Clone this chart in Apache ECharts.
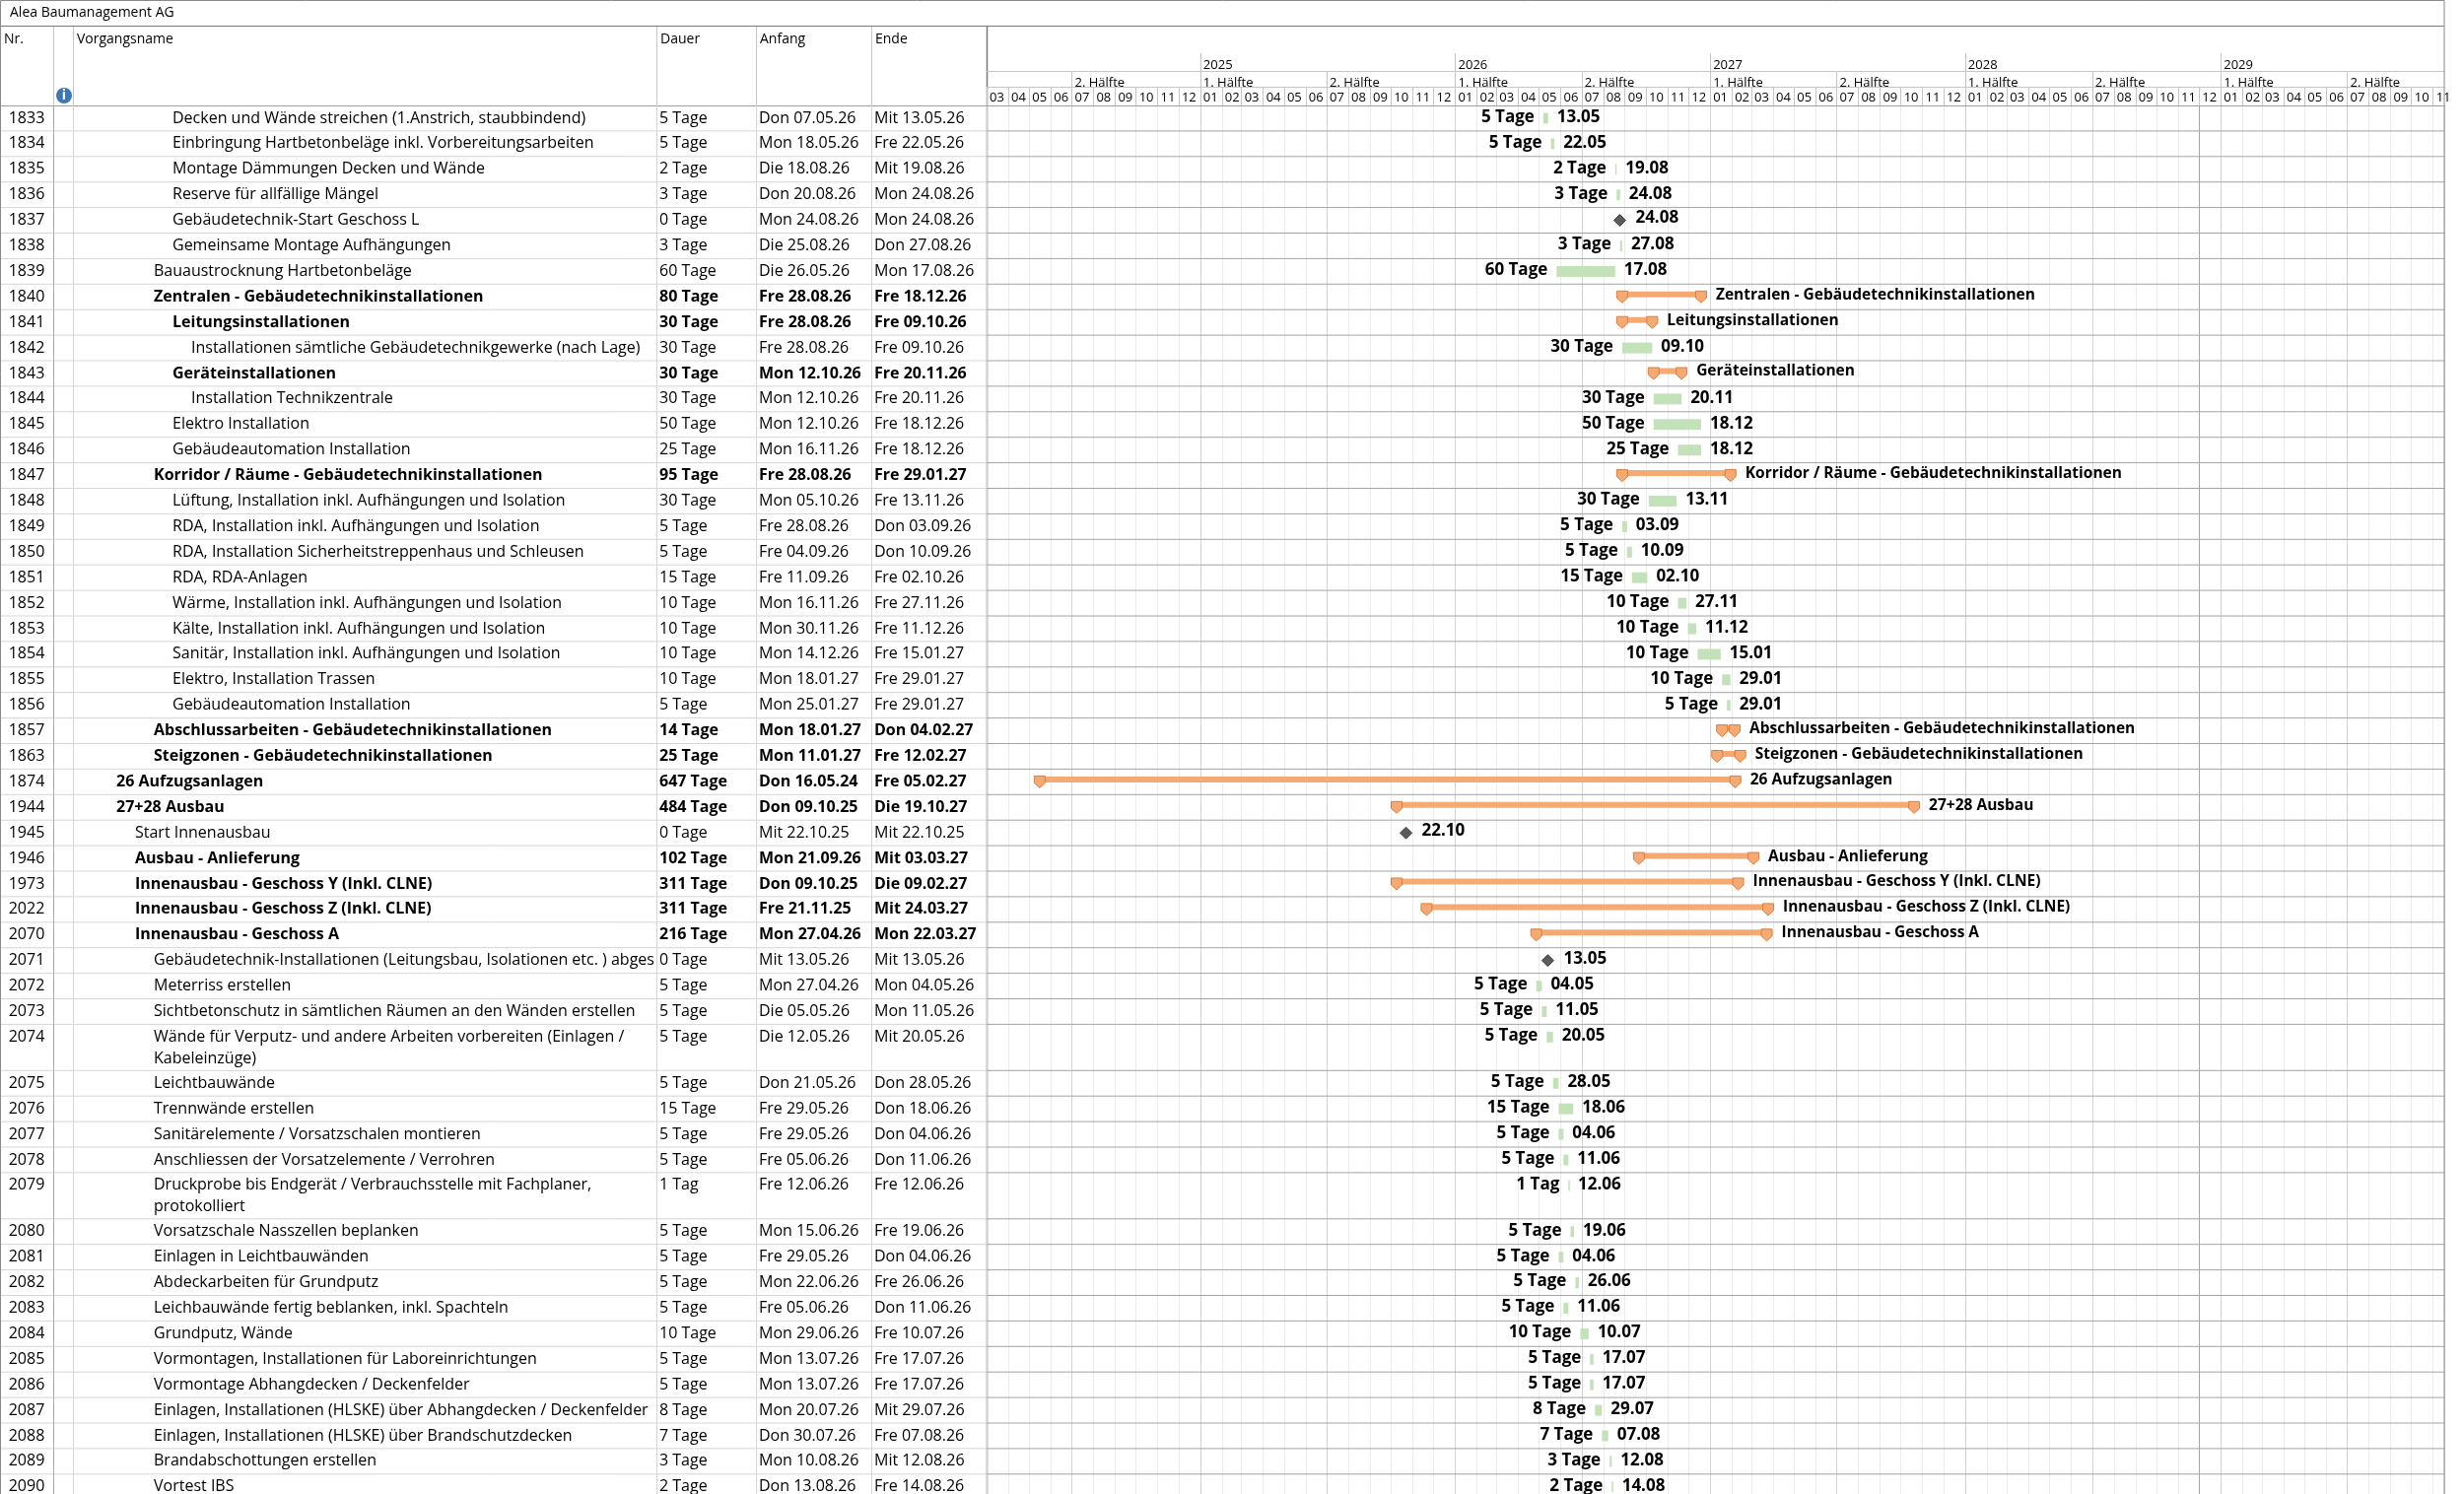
<!DOCTYPE html>
<html><head><meta charset="utf-8">
<script src="https://cdn.jsdelivr.net/npm/echarts@6/dist/echarts.min.js"></script>
<style>html,body{margin:0;padding:0;background:#fff}#c{width:2500px;height:1516px}</style>
</head><body><div id="c"></div>
<script>
// ---------------- data ----------------
const chartTitle = 'Alea Baumanagement AG';
const columnTitles = ['Nr.', 'Vorgangsname', 'Dauer', 'Anfang', 'Ende'];
const halfLabels = ['1. Hälfte', '2. Hälfte'];
const axisStart = '2024-03-01';
const axisEnd = '2029-11-17';
const markerDates = ['2028-12-01'];

const ids = [1833,1834,1835,1836,1837,1838,1839,1840,1841,1842,1843,1844,1845,1846,1847,1848,1849,1850,1851,1852,1853,1854,1855,1856,1857,1863,1874,1944,1945,1946,1973,2022,2070,2071,2072,2073,2074,2075,2076,2077,2078,2079,2080,2081,2082,2083,2084,2085,2086,2087,2088,2089,2090];
const names = [
 'Decken und Wände streichen (1.Anstrich, staubbindend)',
 'Einbringung Hartbetonbeläge inkl. Vorbereitungsarbeiten',
 'Montage Dämmungen Decken und Wände',
 'Reserve für allfällige Mängel',
 'Gebäudetechnik-Start Geschoss L',
 'Gemeinsame Montage Aufhängungen',
 'Bauaustrocknung Hartbetonbeläge',
 'Zentralen - Gebäudetechnikinstallationen',
 'Leitungsinstallationen',
 'Installationen sämtliche Gebäudetechnikgewerke (nach Lage)',
 'Geräteinstallationen',
 'Installation Technikzentrale',
 'Elektro Installation',
 'Gebäudeautomation Installation',
 'Korridor / Räume - Gebäudetechnikinstallationen',
 'Lüftung, Installation inkl. Aufhängungen und Isolation',
 'RDA, Installation inkl. Aufhängungen und Isolation',
 'RDA, Installation Sicherheitstreppenhaus und Schleusen',
 'RDA, RDA-Anlagen',
 'Wärme, Installation inkl. Aufhängungen und Isolation',
 'Kälte, Installation inkl. Aufhängungen und Isolation',
 'Sanitär, Installation inkl. Aufhängungen und Isolation',
 'Elektro, Installation Trassen',
 'Gebäudeautomation Installation',
 'Abschlussarbeiten - Gebäudetechnikinstallationen',
 'Steigzonen - Gebäudetechnikinstallationen',
 '26 Aufzugsanlagen',
 '27+28 Ausbau',
 'Start Innenausbau',
 'Ausbau - Anlieferung',
 'Innenausbau - Geschoss Y (Inkl. CLNE)',
 'Innenausbau - Geschoss Z (Inkl. CLNE)',
 'Innenausbau - Geschoss A',
 'Gebäudetechnik-Installationen (Leitungsbau, Isolationen etc. ) abgeschlossen',
 'Meterriss erstellen',
 'Sichtbetonschutz in sämtlichen Räumen an den Wänden erstellen',
 'Wände für Verputz- und andere Arbeiten vorbereiten (Einlagen /\nKabeleinzüge)',
 'Leichtbauwände',
 'Trennwände erstellen',
 'Sanitärelemente / Vorsatzschalen montieren',
 'Anschliessen der Vorsatzelemente / Verrohren',
 'Druckprobe bis Endgerät / Verbrauchsstelle mit Fachplaner,\nprotokolliert',
 'Vorsatzschale Nasszellen beplanken',
 'Einlagen in Leichtbauwänden',
 'Abdeckarbeiten für Grundputz',
 'Leichbauwände fertig beblanken, inkl. Spachteln',
 'Grundputz, Wände',
 'Vormontagen, Installationen für Laboreinrichtungen',
 'Vormontage Abhangdecken / Deckenfelder',
 'Einlagen, Installationen (HLSKE) über Abhangdecken / Deckenfelder',
 'Einlagen, Installationen (HLSKE) über Brandschutzdecken',
 'Brandabschottungen erstellen',
 'Vortest IBS'
];
const levels = [3,3,3,3,3,3,2,2,3,4,3,4,3,3,2,3,3,3,3,3,3,3,3,3,2,2,0,0,1,1,1,1,1,2,2,2,2,2,2,2,2,2,2,2,2,2,2,2,2,2,2,2,2];
const kinds = ['t','t','t','t','m','t','t','s','s','t','s','t','t','t','s','t','t','t','t','t','t','t','t','t','s','s','s','s','m','s','s','s','s','m',
 't','t','t','t','t','t','t','t','t','t','t','t','t','t','t','t','t','t','t'];
const durations = ['5 Tage','5 Tage','2 Tage','3 Tage','0 Tage','3 Tage','60 Tage','80 Tage','30 Tage','30 Tage','30 Tage','30 Tage','50 Tage','25 Tage','95 Tage','30 Tage','5 Tage','5 Tage','15 Tage','10 Tage','10 Tage','10 Tage','10 Tage','5 Tage','14 Tage','25 Tage','647 Tage','484 Tage','0 Tage','102 Tage','311 Tage','311 Tage','216 Tage','0 Tage','5 Tage','5 Tage','5 Tage','5 Tage','15 Tage','5 Tage','5 Tage','1 Tag','5 Tage','5 Tage','5 Tage','5 Tage','10 Tage','5 Tage','5 Tage','8 Tage','7 Tage','3 Tage','2 Tage'];
const starts = ['Don 07.05.26','Mon 18.05.26','Die 18.08.26','Don 20.08.26','Mon 24.08.26','Die 25.08.26','Die 26.05.26','Fre 28.08.26','Fre 28.08.26','Fre 28.08.26','Mon 12.10.26','Mon 12.10.26','Mon 12.10.26','Mon 16.11.26','Fre 28.08.26','Mon 05.10.26','Fre 28.08.26','Fre 04.09.26','Fre 11.09.26','Mon 16.11.26','Mon 30.11.26','Mon 14.12.26','Mon 18.01.27','Mon 25.01.27','Mon 18.01.27','Mon 11.01.27','Don 16.05.24','Don 09.10.25','Mit 22.10.25','Mon 21.09.26','Don 09.10.25','Fre 21.11.25','Mon 27.04.26','Mit 13.05.26','Mon 27.04.26','Die 05.05.26','Die 12.05.26','Don 21.05.26','Fre 29.05.26','Fre 29.05.26','Fre 05.06.26','Fre 12.06.26','Mon 15.06.26','Fre 29.05.26','Mon 22.06.26','Fre 05.06.26','Mon 29.06.26','Mon 13.07.26','Mon 13.07.26','Mon 20.07.26','Don 30.07.26','Mon 10.08.26','Don 13.08.26'];
const ends = ['Mit 13.05.26','Fre 22.05.26','Mit 19.08.26','Mon 24.08.26','Mon 24.08.26','Don 27.08.26','Mon 17.08.26','Fre 18.12.26','Fre 09.10.26','Fre 09.10.26','Fre 20.11.26','Fre 20.11.26','Fre 18.12.26','Fre 18.12.26','Fre 29.01.27','Fre 13.11.26','Don 03.09.26','Don 10.09.26','Fre 02.10.26','Fre 27.11.26','Fre 11.12.26','Fre 15.01.27','Fre 29.01.27','Fre 29.01.27','Don 04.02.27','Fre 12.02.27','Fre 05.02.27','Die 19.10.27','Mit 22.10.25','Mit 03.03.27','Die 09.02.27','Mit 24.03.27','Mon 22.03.27','Mit 13.05.26','Mon 04.05.26','Mon 11.05.26','Mit 20.05.26','Don 28.05.26','Don 18.06.26','Don 04.06.26','Don 11.06.26','Fre 12.06.26','Fre 19.06.26','Don 04.06.26','Fre 26.06.26','Don 11.06.26','Fre 10.07.26','Fre 17.07.26','Fre 17.07.26','Mit 29.07.26','Fre 07.08.26','Mit 12.08.26','Fre 14.08.26'];

// ---------------- layout ----------------
const FONT = '"Open Sans", "Noto Sans", sans-serif';
const DAY = 864e5;
const TL_LEFT = 1001, TL_RIGHT = 2480, BODY_TOP = 107, CHART_H = 1516;
const ROW_PX = 25.9, EXTRA_LINE_PX = 21;
const BODY_H = CHART_H - BODY_TOP;
const Y_MAX = BODY_H / ROW_PX;
const colEdges = [0, 54, 74, 666, 767, 884, TL_LEFT];
const NAME_X0 = 118, INDENT = 19;
const BODY_FONT = '16px ' + FONT, BODY_FONT_B = 'bold 16px ' + FONT;

function parseDate(s) {
  const p = s.split(' ').pop().split('.');
  return new Date(2000 + (+p[2]), +p[1] - 1, +p[0]).getTime();
}
function isoDate(s) { const p = s.split('-'); return new Date(+p[0], +p[1] - 1, +p[2]).getTime(); }
const tMin = isoDate(axisStart), tMax = isoDate(axisEnd);

const rowUnits = names.map(n => 1 + (n.split('\n').length - 1) * EXTRA_LINE_PX / ROW_PX);
const rowTops = [];
rowUnits.reduce((acc, u, i) => { rowTops[i] = acc; return acc + u; }, 0);

const startTs = starts.map(parseDate);
const endTs = ends.map(parseDate);

// ---------------- renderers ----------------
function renderTableRow(params, api) {
  const i = api.value(2);
  const top = api.coord([0, api.value(1)])[1];
  const bot = api.coord([0, api.value(1) + rowUnits[i]])[1];
  const X = v => api.coord([v, 0])[0];
  const bold = kinds[i] === 's';
  const font = bold ? BODY_FONT_B : BODY_FONT;
  const multi = names[i].indexOf('\n') >= 0;
  const ch = [];
  ch.push({ type: 'line', shape: { x1: X(0), y1: bot, x2: X(TL_LEFT), y2: bot }, style: { stroke: '#d6d6d6', lineWidth: 1 } });
  colEdges.slice(1, 6).forEach((e, k) => {
    ch.push({ type: 'line', shape: { x1: X(e) + 0.5, y1: top, x2: X(e) + 0.5, y2: bot }, style: { stroke: k === 0 ? '#a8a8a8' : '#d6d6d6', lineWidth: 1 } });
  });
  const yc = top + 13;
  ch.push({ type: 'text', style: { x: (X(colEdges[0]) + X(colEdges[1])) / 2, y: yc, text: String(ids[i]), align: 'center', verticalAlign: 'middle', font: BODY_FONT, fill: '#000' } });
  const nx = X(NAME_X0 + INDENT * levels[i]);
  const nameStyle = multi
    ? { x: nx, y: top + 2, text: names[i], align: 'left', verticalAlign: 'top', lineHeight: 22, font: font, fill: '#000' }
    : { x: nx, y: yc, text: names[i], align: 'left', verticalAlign: 'middle', font: font, fill: '#000' };
  ch.push({
    type: 'text', style: nameStyle,
    clipPath: { type: 'rect', shape: { x: X(colEdges[2]) + 1, y: top, width: X(colEdges[3]) - X(colEdges[2]) - 2, height: bot - top } }
  });
  ch.push({ type: 'text', style: { x: X(colEdges[3]) + 3, y: yc, text: durations[i], align: 'left', verticalAlign: 'middle', font: font, fill: '#000' } });
  ch.push({ type: 'text', style: { x: X(colEdges[4]) + 3, y: yc, text: starts[i], align: 'left', verticalAlign: 'middle', font: font, fill: '#000' } });
  ch.push({ type: 'text', style: { x: X(colEdges[5]) + 3, y: yc, text: ends[i], align: 'left', verticalAlign: 'middle', font: font, fill: '#000' } });
  return { type: 'group', children: ch };
}

function renderRowLine(params, api) {
  const i = api.value(2);
  const bot = api.coord([api.value(0), api.value(1) + rowUnits[i]])[1];
  const cs = params.coordSys;
  return { type: 'line', shape: { x1: cs.x, y1: bot, x2: cs.x + cs.width, y2: bot }, style: { stroke: '#a4a4a4', lineWidth: 1 } };
}

const LBL = 'bold 17px ' + FONT;
const LBL_SUM = 'bold 15.5px ' + FONT;
const ORANGE = '#f5aa74', ORANGE_DARK = '#de7c3c';
function renderBar(params, api) {
  const i = api.value(3);
  const s = api.coord([api.value(0), api.value(2)]);
  const e = api.coord([api.value(1), api.value(2)]);
  const yc = s[1] + 13;
  const k = kinds[i];
  const endLbl = ends[i].split(' ').pop().slice(0, 5);
  const ch = [];
  if (k === 't') {
    ch.push({ type: 'rect', shape: { x: s[0], y: yc - 5.5, width: Math.max(e[0] - s[0], 1.5), height: 11 }, style: { fill: '#c4e2b9' } });
    ch.push({ type: 'text', style: { x: s[0] - 9, y: yc - 1, text: durations[i], align: 'right', verticalAlign: 'middle', font: LBL, fill: '#000' } });
    ch.push({ type: 'text', style: { x: e[0] + 9, y: yc - 1, text: endLbl, align: 'left', verticalAlign: 'middle', font: LBL, fill: '#000' } });
  } else if (k === 's') {
    ch.push({ type: 'rect', shape: { x: s[0], y: yc - 5.5, width: e[0] - s[0], height: 6 }, style: { fill: ORANGE } });
    [s[0], e[0]].forEach(x => {
      ch.push({ type: 'polygon', shape: { points: [[x - 5.5, yc - 6], [x + 5.5, yc - 6], [x + 5.5, yc + 1], [x, yc + 6], [x - 5.5, yc + 1]] }, style: { fill: ORANGE, stroke: ORANGE_DARK, lineWidth: 1 } });
    });
    ch.push({ type: 'text', style: { x: e[0] + 15, y: yc - 2, text: names[i], align: 'left', verticalAlign: 'middle', font: LBL_SUM, fill: '#000' } });
  } else {
    const x = s[0];
    ch.push({ type: 'polygon', shape: { points: [[x, yc - 6], [x + 6, yc], [x, yc + 6], [x - 6, yc]] }, style: { fill: '#5b5b5b', stroke: '#3f3f3f', lineWidth: 1 } });
    ch.push({ type: 'text', style: { x: x + 16, y: yc - 2, text: endLbl, align: 'left', verticalAlign: 'middle', font: LBL, fill: '#000' } });
  }
  return { type: 'group', children: ch };
}

// ---------------- header (static texts) ----------------
const headerGraphics = [];
const colTitleX = [colEdges[0], colEdges[2], colEdges[3], colEdges[4], colEdges[5]];
columnTitles.forEach((t, k) => {
  headerGraphics.push({ type: 'text', x: colTitleX[k] + 4, y: 40, style: { text: t, font: '14px ' + FONT, fill: '#000', verticalAlign: 'middle' } });
});
colEdges.slice(1, 6).forEach(e => {
  headerGraphics.push({ type: 'line', shape: { x1: e + 0.5, y1: 26, x2: e + 0.5, y2: BODY_TOP }, style: { stroke: '#c6c6c6', lineWidth: 1 } });
});
headerGraphics.push({ type: 'line', shape: { x1: 0, y1: BODY_TOP + 0.5, x2: TL_LEFT, y2: BODY_TOP + 0.5 }, style: { stroke: '#a0a0a0', lineWidth: 1 } });
headerGraphics.push({ type: 'line', shape: { x1: 0, y1: 26.5, x2: TL_RIGHT, y2: 26.5 }, style: { stroke: '#7a7a7a', lineWidth: 1 } });
headerGraphics.push({ type: 'line', shape: { x1: TL_LEFT + 0.5, y1: 26, x2: TL_LEFT + 0.5, y2: CHART_H }, style: { stroke: '#7a7a7a', lineWidth: 1.5 } });
headerGraphics.push({ type: 'rect', shape: { x: 0.5, y: 0.5, width: TL_RIGHT - 0.5, height: CHART_H }, style: { fill: 'none', stroke: '#8a8a8a', lineWidth: 1 }, z: 100 });
headerGraphics.push({ type: 'circle', shape: { cx: 65, cy: 97, r: 8 }, style: { fill: '#3e76b6' } });
headerGraphics.push({ type: 'text', x: 65, y: 97, style: { text: 'i', font: 'bold 14px ' + FONT, fill: '#fff', align: 'center', verticalAlign: 'middle' } });

// ---------------- option ----------------
const pad2 = n => String(n).padStart(2, '0');
const timeAxisBase = {
  type: 'time', gridIndex: 1, min: tMin, max: tMax, position: 'top',
  axisPointer: { show: false }
};
const option = {
  animation: false,
  backgroundColor: '#fff',
  title: { text: chartTitle, left: 5, top: 1, textStyle: { fontFamily: FONT, fontSize: 14, fontWeight: 'normal', color: '#000' } },
  grid: [
    { left: 0, top: BODY_TOP, width: TL_LEFT, height: BODY_H, outerBoundsMode: 'none' },
    { left: TL_LEFT, top: BODY_TOP, width: TL_RIGHT - TL_LEFT, height: BODY_H, outerBoundsMode: 'none' }
  ],
  xAxis: [
    { type: 'value', gridIndex: 0, min: 0, max: TL_LEFT, show: false },
    Object.assign({}, timeAxisBase, {
      minInterval: 31 * DAY, maxInterval: 31 * DAY,
      axisLine: { show: true, lineStyle: { color: '#a0a0a0', width: 1 } },
      axisTick: { show: true, length: 19, lineStyle: { color: '#c6c6c6' } },
      axisLabel: { show: true, margin: 8, align: 'left', verticalAlign: 'middle', padding: [0, 0, 0, 3], color: '#000', fontFamily: FONT, fontSize: 13,
        formatter: v => { const d = new Date(v); return d.getDate() === 1 ? pad2(d.getMonth() + 1) : ''; } },
      splitLine: { show: true, lineStyle: { color: '#ececec', width: 1 } }
    }),
    Object.assign({}, timeAxisBase, {
      offset: 19, minInterval: 182.5 * DAY, maxInterval: 182.5 * DAY,
      axisLine: { show: true, lineStyle: { color: '#c6c6c6', width: 1 } },
      axisTick: { show: true, length: 16, lineStyle: { color: '#c6c6c6' } },
      axisLabel: { show: true, margin: 4, align: 'left', verticalAlign: 'middle', padding: [0, 0, 0, 3], color: '#000', fontFamily: FONT, fontSize: 13,
        formatter: v => { const d = new Date(v); return (d.getDate() === 1 && (d.getMonth() === 0 || d.getMonth() === 6)) ? halfLabels[d.getMonth() === 0 ? 0 : 1] : ''; } },
      splitLine: { show: true, lineStyle: { color: '#d4d4d4', width: 1 } }
    }),
    Object.assign({}, timeAxisBase, {
      offset: 35, minInterval: 365 * DAY, maxInterval: 365 * DAY,
      axisLine: { show: true, lineStyle: { color: '#c6c6c6', width: 1 } },
      axisTick: { show: true, length: 18, lineStyle: { color: '#c6c6c6' } },
      axisLabel: { show: true, margin: 6, align: 'left', verticalAlign: 'middle', padding: [0, 0, 0, 3], color: '#000', fontFamily: FONT, fontSize: 13,
        formatter: v => { const d = new Date(v); return (d.getDate() === 1 && d.getMonth() === 0) ? String(d.getFullYear()) : ''; } },
      splitLine: { show: false }
    })
  ],
  yAxis: [
    { type: 'value', gridIndex: 0, inverse: true, min: 0, max: Y_MAX, show: false },
    { type: 'value', gridIndex: 1, inverse: true, min: 0, max: Y_MAX, show: false }
  ],
  graphic: headerGraphics,
  series: [
    {
      type: 'custom', name: 'table', xAxisIndex: 0, yAxisIndex: 0, silent: true,
      renderItem: renderTableRow, encode: { x: 0, y: 1 },
      data: ids.map((id, i) => [0, rowTops[i], i])
    },
    {
      type: 'custom', name: 'rowLines', xAxisIndex: 1, yAxisIndex: 1, silent: true,
      renderItem: renderRowLine, encode: { x: 0, y: 1 },
      data: ids.map((id, i) => [tMin, rowTops[i], i]),
      markLine: { silent: true, symbol: 'none', label: { show: false }, lineStyle: { color: '#a6a6a6', type: 'solid', width: 1 },
        data: markerDates.map(d => ({ xAxis: isoDate(d) })) }
    },
    {
      type: 'custom', name: 'bars', xAxisIndex: 1, yAxisIndex: 1, silent: true, clip: true,
      renderItem: renderBar, encode: { x: [0, 1], y: 2 },
      data: ids.map((id, i) => [startTs[i] + (kinds[i] === 'm' ? 0.5 * DAY : 0), kinds[i] === 'm' ? startTs[i] + 0.5 * DAY : endTs[i] + DAY, rowTops[i], i])
    }
  ]
};
const chart = echarts.init(document.getElementById('c'), null, { renderer: 'canvas' });
chart.setOption(option);
</script></body></html>
